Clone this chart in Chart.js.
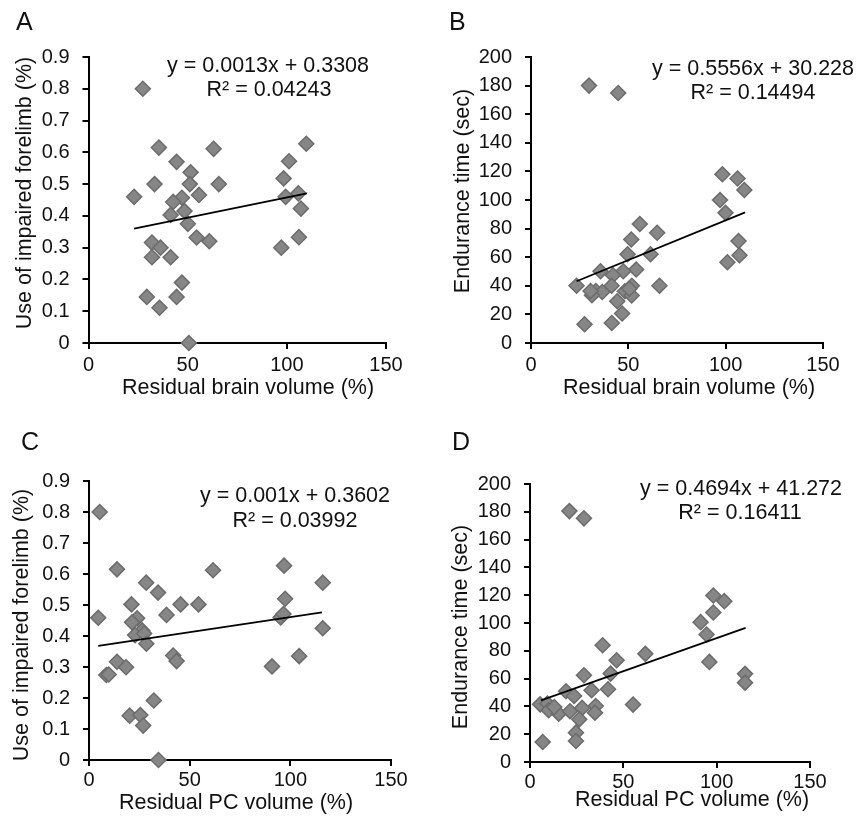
<!DOCTYPE html>
<html>
<head>
<meta charset="utf-8">
<script src="https://cdn.jsdelivr.net/npm/chart.js@4.4.0/dist/chart.umd.min.js"></script>
<style>
  body { margin: 0; background: #fff; width: 859px; height: 818px; position: relative; overflow: hidden; }
  .panel { position: absolute; }
</style>
</head>
<body>
<div class="panel" style="left:0;top:0"><canvas id="chartA" width="430" height="405"></canvas></div>
<div class="panel" style="left:430px;top:0"><canvas id="chartB" width="429" height="405"></canvas></div>
<div class="panel" style="left:0;top:405px"><canvas id="chartC" width="430" height="413"></canvas></div>
<div class="panel" style="left:430px;top:405px"><canvas id="chartD" width="429" height="413"></canvas></div>
<script>
// Panel A: forelimb use vs residual brain volume
const aX = [27.4, 23.0, 35.5, 33.3, 44.4, 51.5, 51.1, 55.7, 47.1, 42.7, 41.4, 48.4, 50.1, 63.1, 65.7, 54.5, 60.9,
            32.0, 36.3, 32.0, 41.4, 47.1, 29.4, 44.4, 35.8, 50.6, 98.4, 101.1, 109.8, 99.4, 105.8, 107.1, 106.1, 97.2];
const aY = [0.80, 0.46, 0.615, 0.50, 0.57, 0.537, 0.50, 0.466, 0.457, 0.444, 0.403, 0.415, 0.375, 0.611, 0.50, 0.332, 0.32,
            0.316, 0.30, 0.27, 0.27, 0.19, 0.145, 0.145, 0.111, 0.0, 0.518, 0.572, 0.627, 0.46, 0.471, 0.423, 0.333, 0.30];
const trendAX = [23.0, 110.1];
const trendAY = [0.36, 0.471];

// Panel B: endurance time vs residual brain volume
const bX = [29.8, 44.8, 98.3, 106.1, 109.6, 97.1, 99.9, 55.9, 64.8, 51.5, 106.6, 49.6, 61.4, 107.1, 100.9, 54.0, 35.7,
            47.4, 42.1, 23.4, 41.4, 51.8, 66.0, 33.3, 36.6, 31.3, 48.2, 51.7, 44.3, 46.8, 27.5, 41.5, 30.6, 50.5];
const bY = [180, 174.8, 118, 115, 107, 100, 91, 83.2, 77.1, 72.4, 71.3, 62.1, 62.1, 61.4, 56.5, 51.4, 50.2,
            50.2, 47.4, 40, 40, 40, 40, 36.4, 35.7, 33.4, 36.2, 33.2, 29.2, 20.6, 13.1, 14, 36.4, 38];
const trendBX = [23.4, 110.0];
const trendBY = [43.2, 91.4];

// Panel C: forelimb use vs residual PC volume
const cX = [5.3, 4.6, 13.9, 28.4, 34.3, 21.1, 45.5, 54.4, 61.6, 38.5, 23.9, 21.4, 26.4, 22.9, 27.4, 28.5, 41.8, 43.5,
            13.9, 18.4, 8.6, 9.8, 32.2, 20.2, 25.5, 26.9, 34.5, 96.9, 116.1, 97.4, 95.2, 96.6, 116.1, 104.4, 90.9];
const cY = [0.80, 0.459, 0.615, 0.572, 0.54, 0.502, 0.502, 0.502, 0.612, 0.468, 0.457, 0.444, 0.418, 0.403, 0.408, 0.375, 0.337, 0.319,
            0.317, 0.299, 0.274, 0.276, 0.192, 0.143, 0.145, 0.111, 0.0, 0.627, 0.572, 0.520, 0.460, 0.471, 0.425, 0.335, 0.302];
const trendCX = [4.6, 115.7];
const trendCY = [0.368, 0.476];

// Panel D: endurance time vs residual PC volume
const dX = [21.1, 28.9, 98.2, 104.1, 98.2, 91.4, 94.6, 38.9, 61.8, 96.1, 46.4, 43.2, 28.9, 115.2, 115.2, 41.8, 33.0,
            19.3, 23.6, 55.2, 5.4, 9.3, 10.0, 15.4, 21.4, 27.9, 35.2, 34.8, 26.4, 24.6, 24.6, 6.8, 13.0];
const dY = [180.5, 175.3, 119.8, 115.7, 107.6, 100.6, 91.7, 84, 77.8, 72, 73.2, 63.6, 62.4, 63.4, 57.1, 52.3, 51.6,
            50.9, 47.5, 41.3, 41.5, 42, 37.2, 34.8, 36.5, 38.9, 40.3, 35.5, 30.7, 21.1, 15.1, 14.4, 39.6];
const trendDX = [5.9, 115.5];
const trendDY = [44.4, 96.5];

const xTitleBrain = 'Residual brain volume (%)';
const xTitlePC = 'Residual PC volume (%)';
const yTitleUse = 'Use of impaired forelimb (%)';
const yTitleTime = 'Endurance time (sec)';

const FONT = '"Liberation Sans", Arial, Helvetica, sans-serif';

// draws panel letter, regression text and axis titles
const panelText = {
  id: 'panelText',
  afterDraw(chart, args, opts) {
    const ctx = chart.ctx;
    ctx.save();
    ctx.fillStyle = '#111';
    ctx.textBaseline = 'middle';
    opts.items.forEach(it => {
      ctx.font = it.size + 'px ' + FONT;
      ctx.textAlign = it.align || 'center';
      ctx.save();
      ctx.translate(it.x, it.y);
      if (it.rot) ctx.rotate(-Math.PI / 2);
      ctx.fillText(it.text, 0, 0);
      ctx.restore();
    });
    ctx.restore();
  }
};

function toPoints(xs, ys) {
  return xs.map((x, i) => ({ x: x, y: ys[i] }));
}

function makePanel(id, p) {
  const canvas = document.getElementById(id);
  const w = canvas.width, h = canvas.height;
  return new Chart(canvas, {
    type: 'scatter',
    data: {
      datasets: [{
        type: 'line',
        data: toPoints(p.tx, p.ty),
        borderColor: '#000',
        borderWidth: 1.8,
        pointRadius: 0,
        fill: false,
        clip: false
      }, {
        data: toPoints(p.x, p.y),
        pointStyle: 'rectRot',
        pointRadius: 7.5,
        backgroundColor: '#868686',
        borderColor: '#6c6c6c',
        borderWidth: 1.5,
        clip: false
      }]
    },
    options: {
      responsive: false,
      animation: false,
      devicePixelRatio: 1,
      layout: { padding: { left: 0, top: p.area.top, right: w - p.area.right, bottom: 0 } },
      plugins: {
        legend: { display: false },
        tooltip: { enabled: false },
        panelText: { items: p.texts }
      },
      scales: {
        x: {
          type: 'linear', min: 0, max: 150,
          afterFit: function (s) { s.height = h - p.area.bottom; },
          ticks: { stepSize: 50, padding: p.xPad, color: '#111', font: { size: 20, family: FONT } },
          grid: { drawOnChartArea: false, drawTicks: true, tickLength: 6, color: '#000', lineWidth: 2 },
          border: { color: '#000', width: 2 }
        },
        y: {
          type: 'linear', min: 0, max: p.yMax,
          afterFit: function (s) { s.width = p.area.left; },
          ticks: { stepSize: p.yStep, autoSkip: false, padding: 13, color: '#111', font: { size: 20, family: FONT } },
          grid: { drawOnChartArea: false, drawTicks: true, tickLength: 6, color: '#000', lineWidth: 2 },
          border: { color: '#000', width: 2 }
        }
      }
    },
    plugins: [panelText]
  });
}

makePanel('chartA', {
  x: aX, y: aY, tx: trendAX, ty: trendAY, yMax: 0.9, yStep: 0.1, xPad: 4,
  area: { left: 88.5, top: 57, right: 386, bottom: 343 },
  texts: [
    { text: 'A', x: 16, y: 23, size: 25, align: 'left' },
    { text: 'y = 0.0013x + 0.3308', x: 268, y: 66, size: 21.5 },
    { text: 'R² = 0.04243', x: 269, y: 90, size: 21.5 },
    { text: xTitleBrain, x: 248, y: 388, size: 21.5 },
    { text: yTitleUse, x: 25, y: 193, size: 21.5, rot: true }
  ]
});

makePanel('chartB', {
  x: bX, y: bY, tx: trendBX, ty: trendBY, yMax: 200, yStep: 20, xPad: 4,
  area: { left: 101, top: 57, right: 393, bottom: 343 },
  texts: [
    { text: 'B', x: 19, y: 23, size: 25, align: 'left' },
    { text: 'y = 0.5556x + 30.228', x: 323, y: 69, size: 21.5 },
    { text: 'R² = 0.14494', x: 323, y: 93, size: 21.5 },
    { text: xTitleBrain, x: 259, y: 388, size: 21.5 },
    { text: yTitleTime, x: 33, y: 191, size: 21.5, rot: true }
  ]
});

makePanel('chartC', {
  x: cX, y: cY, tx: trendCX, ty: trendCY, yMax: 0.9, yStep: 0.1, xPad: 2,
  area: { left: 89, top: 76, right: 391, bottom: 355 },
  texts: [
    { text: 'C', x: 21, y: 38, size: 25, align: 'left' },
    { text: 'y = 0.001x + 0.3602', x: 295, y: 91, size: 21.5 },
    { text: 'R² = 0.03992', x: 295, y: 116, size: 21.5 },
    { text: xTitlePC, x: 236, y: 398, size: 21.5 },
    { text: yTitleUse, x: 22, y: 220, size: 21.5, rot: true }
  ]
});

makePanel('chartD', {
  x: dX, y: dY, tx: trendDX, ty: trendDY, yMax: 200, yStep: 20, xPad: 2,
  area: { left: 100, top: 79, right: 380, bottom: 357 },
  texts: [
    { text: 'D', x: 22, y: 38, size: 25, align: 'left' },
    { text: 'y = 0.4694x + 41.272', x: 311, y: 84, size: 21.5 },
    { text: 'R² = 0.16411', x: 310, y: 108, size: 21.5 },
    { text: xTitlePC, x: 262, y: 395, size: 21.5 },
    { text: yTitleTime, x: 31, y: 222, size: 21.5, rot: true }
  ]
});
</script>
</body>
</html>
